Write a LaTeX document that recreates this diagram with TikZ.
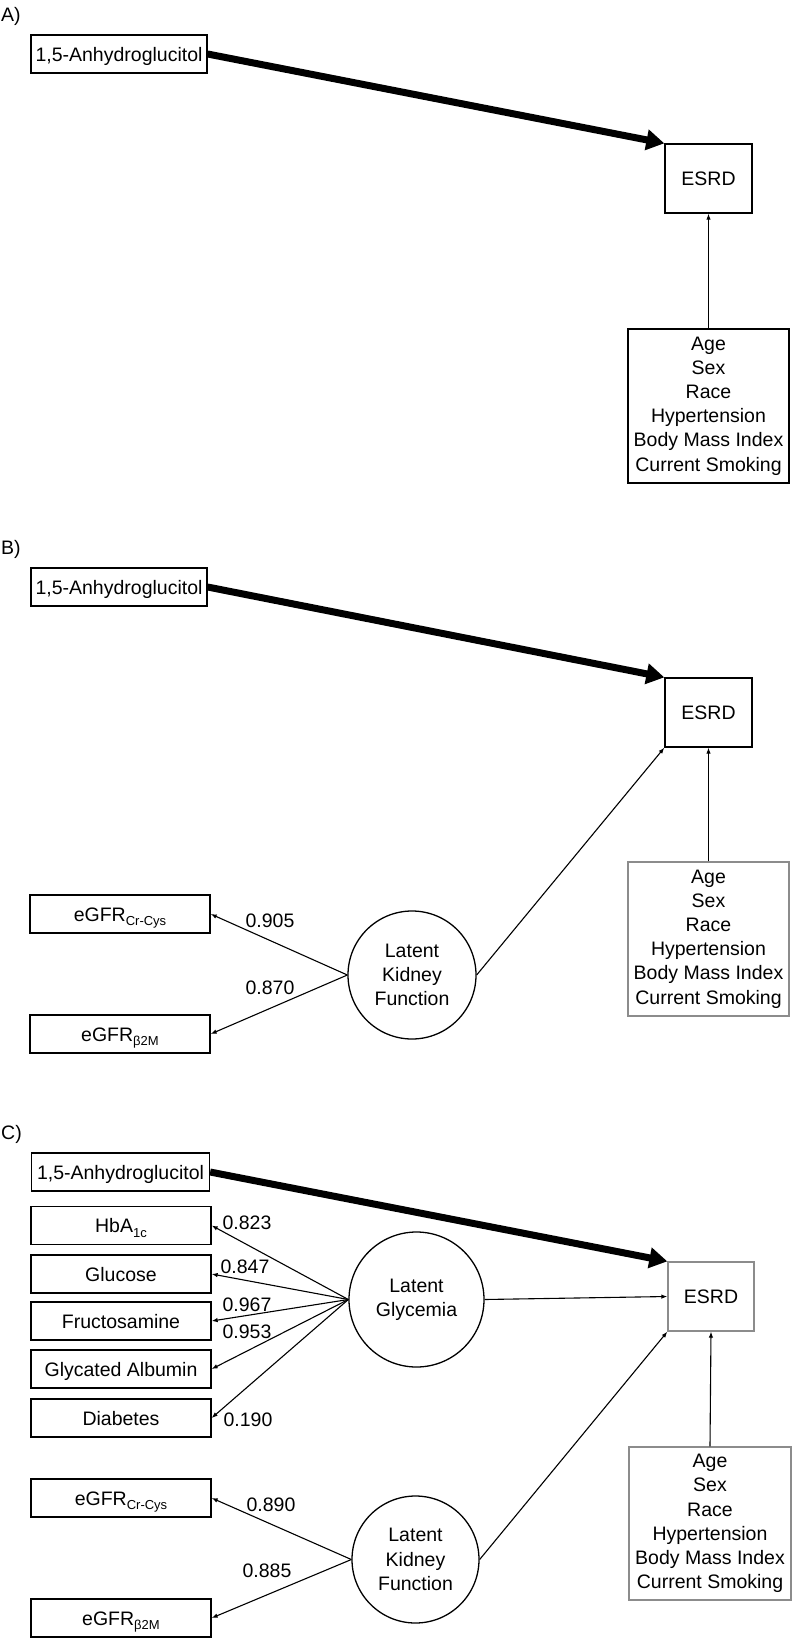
\documentclass[tikz,border=0pt]{standalone}
\usepackage{fontspec}
\setmainfont{Liberation Sans}
\usetikzlibrary{arrows.meta}
\definecolor{greybox}{RGB}{140,140,140}
\newcommand{\sbs}[1]{\raisebox{-4.5pt}{\fontsize{13}{13}\selectfont #1}}
\begin{document}
\begin{tikzpicture}[x=1pt,y=-1pt,
  every node/.style={font=\fontsize{19.5}{24.2}\selectfont},
  rbox/.style={draw=black, line width=1.3pt, inner sep=0pt, text height=14pt, text depth=0pt, minimum width=180pt, minimum height=38pt},
  esrd/.style={draw=black, line width=1.3pt, inner sep=0pt, text height=14pt, text depth=0pt, minimum width=87pt, minimum height=69pt},
  covs/.style={draw=black, line width=1.3pt, inner sep=2pt, align=center, minimum width=161pt, minimum height=154pt},
  lat/.style={draw=black, line width=1.3pt, circle, inner sep=0pt, align=center},
  num/.style={inner sep=0pt, text height=14pt, text depth=0pt},
  plabel/.style={inner sep=0pt, text height=14pt, text depth=0pt, anchor=west},
  arr/.style={line width=1.1pt, -{Latex[length=6pt,width=4.5pt]}},
  bigarr/.style={line width=7pt, -{Triangle[length=18pt,width=20pt]}}
]
\useasboundingbox (0,0) rectangle (792,1639);

% ---------- Panel A ----------
\node[plabel] (la) at (1,14) {A)};
\node[rbox, minimum width=176pt] (a1) at (119,54) {1,5-Anhydroglucitol};
\node[esrd] (ae) at (708.5,178.5) {ESRD};
\node[covs] (ac) at (708.5,406) {Age\\Sex\\Race\\Hypertension\\Body Mass Index\\Current Smoking};
\draw[bigarr] (a1.east) -- (ae.north west);
\draw[arr] (ac.north) -- (ae.south);

% ---------- Panel B ----------
\node[plabel] (lb) at (1,547) {B)};
\node[rbox, minimum width=176pt] (b1) at (119,587) {1,5-Anhydroglucitol};
\node[esrd] (be) at (708.5,712.5) {ESRD};
\node[covs, draw=greybox] (bc) at (708.5,939) {Age\\Sex\\Race\\Hypertension\\Body Mass Index\\Current Smoking};
\node[lat, minimum size=128pt] (bk) at (412,975) {Latent\\Kidney\\Function};
\node[rbox] (bg1) at (120,914) {eGFR\sbs{Cr-Cys}};
\node[rbox] (bg2) at (120,1034) {eGFR\sbs{β2M}};
\node[num] (bn1) at (270,920) {0.905};
\node[num] (bn2) at (270,987) {0.870};
\draw[bigarr] (b1.east) -- (be.north west);
\draw[arr] (bc.north) -- (be.south);
\draw[arr] (bk.east) -- (be.south west);
\draw[arr] (bk.west) -- (bg1.east);
\draw[arr] (bk.west) -- (bg2.east);

% ---------- Panel C ----------
\node[plabel] (lc) at (1,1132) {C)};
\node[rbox, minimum width=178pt] (c1) at (120.5,1172) {1,5-Anhydroglucitol};
\node[rbox] (ch) at (121,1225.5) {HbA\sbs{1c}};
\node[rbox] (cgl) at (121,1274) {Glucose};
\node[rbox] (cf) at (121,1321) {Fructosamine};
\node[rbox] (cga) at (121,1369) {Glycated Albumin};
\node[rbox] (cd) at (121,1418) {Diabetes};
\node[lat, minimum size=135pt] (cgly) at (416.5,1299.5) {Latent\\Glycemia};
\node[esrd, draw=greybox, minimum width=86pt] (ce) at (711,1296.5) {ESRD};
\node[covs, draw=greybox, minimum width=162pt, minimum height=153pt] (cc) at (710,1523.5) {Age\\Sex\\Race\\Hypertension\\Body Mass Index\\Current Smoking};
\node[lat, minimum size=127pt] (ck) at (415.5,1559.5) {Latent\\Kidney\\Function};
\node[rbox] (cg1) at (121,1498) {eGFR\sbs{Cr-Cys}};
\node[rbox] (cg2) at (121,1618) {eGFR\sbs{β2M}};
\node[num] (cn1) at (247,1222) {0.823};
\node[num] (cn2) at (245,1266) {0.847};
\node[num] (cn3) at (247,1304.5) {0.967};
\node[num] (cn4) at (247,1331) {0.953};
\node[num] (cn5) at (248,1419) {0.190};
\node[num] (cn6) at (271,1504) {0.890};
\node[num] (cn7) at (267,1570) {0.885};
\draw[bigarr] (c1.east) -- (ce.north west);
\draw[arr] (cgly.west) -- (ch.east);
\draw[arr] (cgly.west) -- (cgl.east);
\draw[arr] (cgly.west) -- (cf.east);
\draw[arr] (cgly.west) -- (cga.east);
\draw[arr] (cgly.west) -- (cd.east);
\draw[arr] (cgly.east) -- (ce.west);
\draw[arr] (ck.west) -- (cg1.east);
\draw[arr] (ck.west) -- (cg2.east);
\draw[arr] (ck.east) -- (ce.south west);
\draw[arr] (cc.north) -- (ce.south);
\end{tikzpicture}
\end{document}
